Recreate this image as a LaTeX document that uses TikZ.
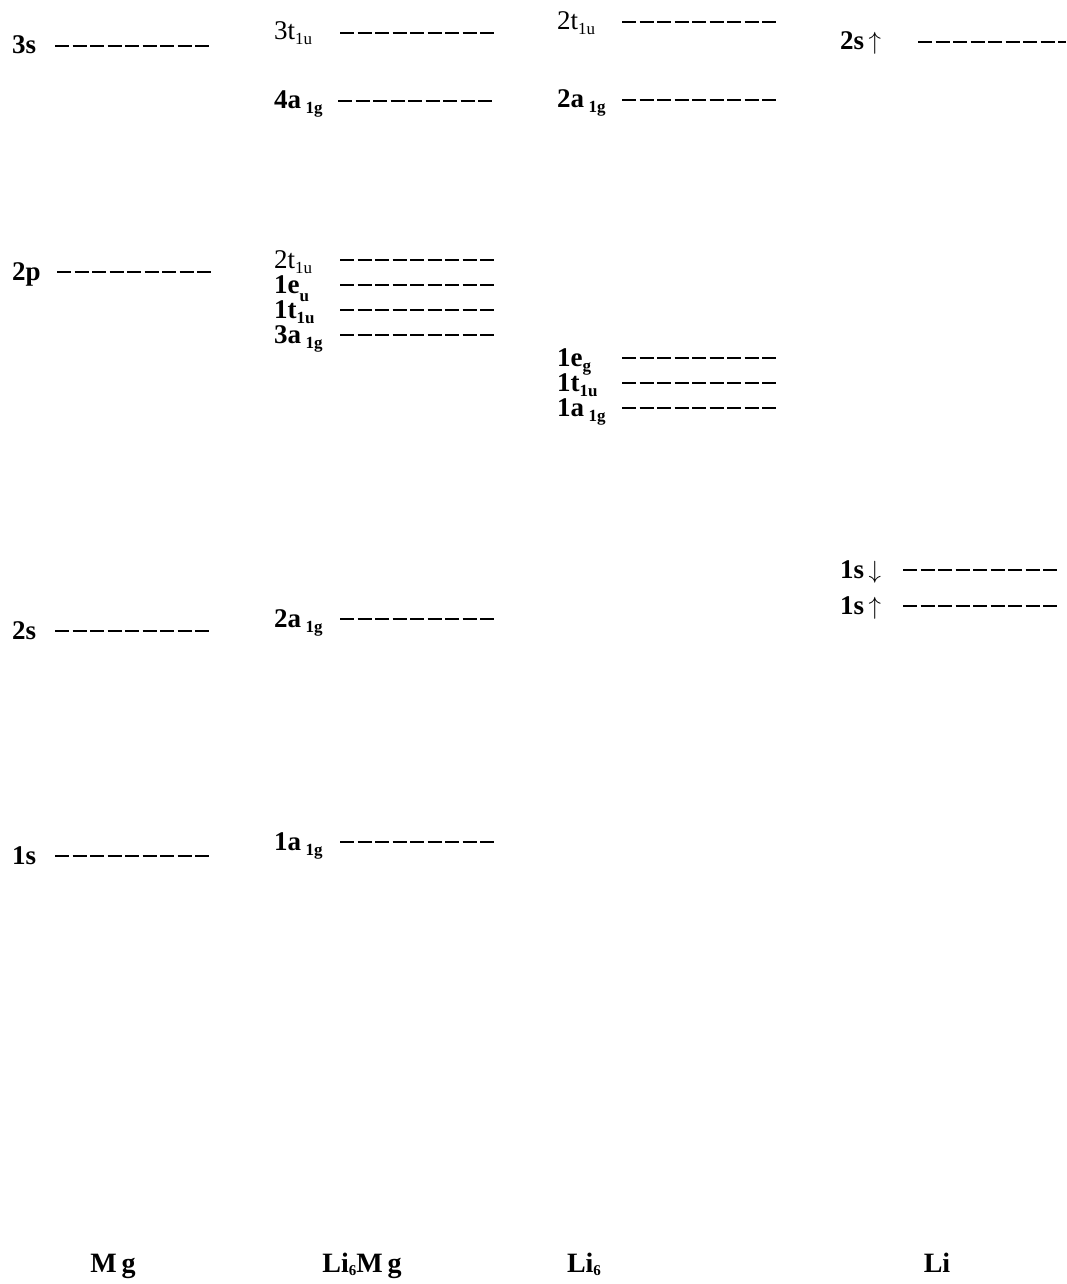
\documentclass[tikz,border=0pt]{standalone}
\usepackage{fontspec}
\setmainfont{Liberation Serif}
\newcommand\sbs[1]{\raisebox{-5pt}{\fontsize{17}{17}\selectfont #1}}
\newcommand\sbl[1]{\raisebox{-8pt}{\fontsize{17}{17}\selectfont #1}}
\newcommand\sbt[1]{\raisebox{-3pt}{\fontsize{15}{15}\selectfont #1}}
\begin{document}
\begin{tikzpicture}[x=1pt,y=-1pt,
  level/.style={line width=2.7pt, dash pattern=on 14pt off 3.5pt},
  lab/.style={anchor=base west, inner sep=0pt, font=\fontsize{27}{30}\selectfont\bfseries},
  labr/.style={anchor=base west, inner sep=0pt, font=\fontsize{27}{30}\selectfont},
  ttl/.style={anchor=base, inner sep=0pt, font=\fontsize{28}{32}\selectfont\bfseries}]
\useasboundingbox (0,0) rectangle (1066,1284);
% Mg
\node[lab] (mg3s) at (12,54) {3s};
\draw[level] (55,46) -- (210,46);
\node[lab] (mg2p) at (12,280) {2p};
\draw[level] (57,272) -- (212,272);
\node[lab] (mg2s) at (12,639) {2s};
\draw[level] (55,631) -- (210,631);
\node[lab] (mg1s) at (12,864) {1s};
\draw[level] (55,856) -- (210,856);
% Li6Mg
\node[labr] (a3t) at (274,40) {3t\sbs{1u}};
\draw[level] (340,33) -- (494,33);
\node[lab] (a4a) at (274,109) {4a\,\sbs{1g}};
\draw[level] (338,101) -- (494,101);
\node[labr] (a2t) at (274,268) {2t\sbs{1u}};
\draw[level] (340,260) -- (494,260);
\node[lab] (a1e) at (274,293) {1e\sbl{u}};
\draw[level] (340,285) -- (494,285);
\node[lab] (a1t) at (274,318) {1t\sbs{1u}};
\draw[level] (340,310) -- (494,310);
\node[lab] (a3a) at (274,343) {3a\,\sbs{1g}};
\draw[level] (340,335) -- (494,335);
\node[lab] (a2a) at (274,627) {2a\,\sbs{1g}};
\draw[level] (340,619) -- (494,619);
\node[lab] (a1a) at (274,850) {1a\,\sbs{1g}};
\draw[level] (340,842) -- (494,842);
% Li6
\node[labr] (b2t) at (557,30) {2t\sbs{1u}};
\draw[level] (622,22) -- (778,22);
\node[lab] (b2a) at (557,108) {2a\,\sbs{1g}};
\draw[level] (622,100) -- (778,100);
\node[lab] (b1e) at (557,366) {1e\sbs{g}};
\draw[level] (622,358) -- (778,358);
\node[lab] (b1t) at (557,391) {1t\sbs{1u}};
\draw[level] (622,383) -- (778,383);
\node[lab] (b1a) at (557,416) {1a\,\sbs{1g}};
\draw[level] (622,408) -- (778,408);
% Li
\node[labr] (c2s) at (840,50) {\textbf{2s}\,$\uparrow$};
\draw[level] (918,42) -- (1066,42);
\node[lab] (c1sd) at (840,578) {1s\,$\downarrow$};
\draw[level] (903,570) -- (1057,570);
\node[lab] (c1su) at (840,614) {1s\,$\uparrow$};
\draw[level] (903,606) -- (1057,606);
% titles
\node[ttl] (tmg) at (113,1272) {M\,g};
\node[ttl] (tli6mg) at (362,1272) {Li\sbt{6}M\,g};
\node[ttl] (tli6) at (584,1272) {Li\sbt{6}};
\node[ttl] (tli) at (937,1272) {Li};
\end{tikzpicture}
\end{document}
